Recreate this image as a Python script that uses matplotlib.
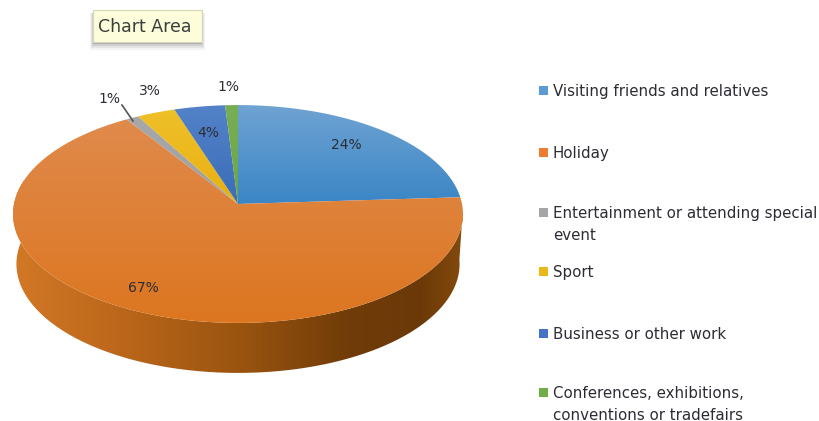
#!/usr/bin/env python3
"""Purpose of visit, tilted 3D-style pie with a legend column on the right."""
import numpy as np
import matplotlib
matplotlib.use("Agg")
import matplotlib.pyplot as plt
from matplotlib.colors import to_rgb
from matplotlib.patches import Polygon, Rectangle

categories = [
    "Visiting friends and relatives",
    "Holiday",
    "Entertainment or attending special\nevent",
    "Sport",
    "Business or other work",
    "Conferences, exhibitions,\nconventions or tradefairs",
]
shares = [24, 67, 1, 3, 4, 1]

# top and bottom colour of each slice's top face
TOP_COLORS = ["#6fa3d2", "#e08a4c", "#a8a8a8", "#efc02a", "#5382c8", "#78ae55"]
BOTTOM_COLORS = ["#3b86c6", "#dc7620", "#a0a0a0", "#e8b010", "#3a6db8", "#6ba544"]
SWATCHES = ["#5b9bd5", "#ed7d31", "#a5a5a5", "#e8b818", "#4472c4", "#70ad47"]

# screen positions of the percent labels, slice order
LABEL_XY = [(346, 145), (143, 288), (109, 99), (150, 91), (208, 133), (228, 87)]
LEGEND_Y = [91, 153, 213, 272, 334, 393]

FONT = "DejaVu Sans"
TEXT = "#2c2c34"

# pie projection, in pixels
CX, CY = 238, 204
RX, RY = 224, 108
PERSP = 0.0917
DEPTH = 50


def rim(theta, shrink=1.0, drop=0.0):
    """Project clockwise-from-top angles (radians) onto the tilted disc."""
    u, v = np.sin(theta), np.cos(theta)
    w = 1 + PERSP * v
    return np.column_stack((CX + shrink * RX * u / w, CY + drop - RY * v / w))


def gradient_fill(ax, poly, colors, stops, vertical):
    """Paint a gradient through the stops and clip it to the polygon."""
    x0, y0 = poly[:, 0].min(), poly[:, 1].min()
    x1, y1 = poly[:, 0].max(), poly[:, 1].max()
    rgb = np.array([to_rgb(c) for c in colors])
    pos = np.linspace(y0 if vertical else x0, y1 if vertical else x1, 256)
    ramp = np.column_stack([np.interp(pos, stops, rgb[:, i]) for i in range(3)])
    img = ramp[:, None, :] if vertical else ramp[None, :, :]
    im = ax.imshow(img, extent=(x0, x1, y1, y0), aspect="auto",
                   interpolation="bilinear", zorder=2)
    patch = Polygon(poly, closed=True, transform=ax.transData,
                    facecolor="none", edgecolor="none")
    ax.add_patch(patch)
    im.set_clip_path(patch)


fig = plt.figure(figsize=(8.19, 4.21), dpi=100)
ax = fig.add_axes([0, 0, 1, 1])

# side wall along the front of the disc
front = np.radians(np.linspace(93, 283, 240))
wall = np.vstack((rim(front), rim(front[::-1], shrink=0.985, drop=DEPTH)))
gradient_fill(ax, wall,
              ["#d27826", "#b9651a", "#9a540f", "#703c08", "#6b3908", "#834a0c"],
              [14, 130, 240, 350, 420, 463], vertical=False)

# top face, one slice at a time
edges = np.cumsum([0] + shares) / sum(shares) * 2 * np.pi
for i in range(len(shares)):
    arc = np.linspace(edges[i], edges[i + 1], max(4, shares[i] * 6))
    poly = np.vstack(([[CX, CY]], rim(arc)))
    gradient_fill(ax, poly, [TOP_COLORS[i], BOTTOM_COLORS[i]],
                  [poly[:, 1].min(), poly[:, 1].max()], vertical=True)

# percent labels
for share, (x, y) in zip(shares, LABEL_XY):
    ax.text(x, y, f"{share}%", ha="center", va="center", fontsize=10,
            family=FONT, color=TEXT, zorder=5)
ax.plot([122, 133], [105, 121], color="#555555", lw=1.2, zorder=4)

# legend column
for name, color, y in zip(categories, SWATCHES, LEGEND_Y):
    ax.add_patch(Rectangle((539, y - 5), 9, 9, facecolor=color, edgecolor="none", zorder=3))
    ax.text(553, y - 7, name, ha="left", va="top", fontsize=10.85, family=FONT,
            color=TEXT, linespacing=1.55, zorder=3)

# hover tooltip with a soft shadow under it
for grow, alpha in [(6, 0.05), (4, 0.08), (2, 0.12), (0, 0.2)]:
    ax.add_patch(Rectangle((93 - grow / 2, 13), 109 + grow, 31 + grow,
                           facecolor="#30303a", alpha=alpha, edgecolor="none", zorder=5))
ax.add_patch(Rectangle((93, 10), 109, 32, facecolor="#fdfddc", edgecolor="#d8d8b8",
                       lw=0.8, zorder=6))
ax.text(98, 27, "Chart Area", ha="left", va="center", fontsize=12.5, family=FONT,
        color="#3a3f3a", zorder=7)

ax.set_xlim(0, 819)
ax.set_ylim(421, 0)
ax.axis("off")

fig.savefig("out.png", dpi=100, facecolor="white")
